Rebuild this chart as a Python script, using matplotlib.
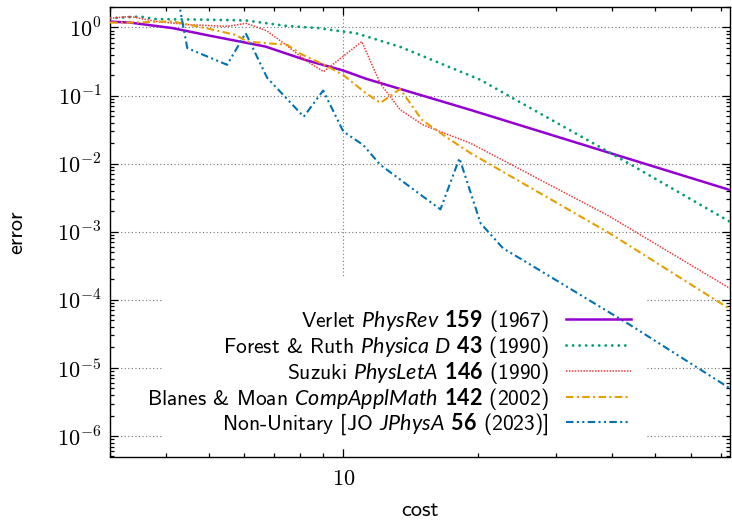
"""Error vs. cost for several splitting integrators (log-log)."""
from __future__ import annotations

import matplotlib

matplotlib.use("Agg")
import matplotlib.pyplot as plt
import numpy as np
from matplotlib.patches import Rectangle
from matplotlib.ticker import FixedLocator, FuncFormatter, LogLocator, NullFormatter

# --------------------------------------------------------------------------- #
# Data
# --------------------------------------------------------------------------- #
cost_verlet = [3, 3.33, 4.14, 4.91, 5.73, 6.69, 8.2, 10, 11.26, 19.26, 37.6, 73.5]
err_verlet = [1.22, 1.18, 0.98, 0.78, 0.64, 0.525, 0.335, 0.233, 0.176, 0.0616, 0.0159, 0.0041]

cost_forest = [3, 3.5, 3.8, 5.0, 6.04, 7.41, 8.79, 10, 10.64, 11.26, 13.4, 20.3, 23.6, 39.8, 73.5]
err_forest = [1.37, 1.45, 1.33, 1.30, 1.27, 1.06, 0.98, 0.87, 0.83, 0.74, 0.52, 0.17, 0.097,
              0.0142, 0.0014]

cost_suzuki = [3, 3.33, 3.8, 4.5, 5.49, 6.06, 6.72, 7.45, 8.22, 9.03, 11.0, 12.1, 13.4, 15.1,
               19.26, 23.5, 39.5, 73.5]
err_suzuki = [1.37, 1.45, 1.23, 1.10, 1.04, 1.15, 0.9, 0.55, 0.33, 0.225, 0.62, 0.15, 0.062,
              0.037, 0.020, 0.0101, 0.00168, 1.47e-4]

cost_blanes = [3, 3.33, 4.14, 4.91, 5.73, 6.09, 7.48, 8.08, 9.1, 10, 11.2, 12.1, 13.4, 15.0,
               17.1, 19.3, 39.5, 73.5]
err_blanes = [1.18, 1.18, 1.23, 0.98, 0.78, 0.62, 0.557, 0.40, 0.28, 0.2, 0.11, 0.078, 0.125,
              0.044, 0.024, 0.0142, 9.5e-4, 7.3e-5]

cost_nonunit = [4, 4.47, 5.49, 6.04, 6.75, 8.15, 9.01, 10, 11.08, 12.1, 16.5, 18.2, 20.3, 22.8,
                25.3, 44.1, 73.5]
err_nonunit = [25, 0.498, 0.283, 0.828, 0.182, 0.049, 0.1185, 0.0296, 0.0188, 0.0096, 0.00213,
               0.012, 0.00133, 5.7e-4, 3.8e-4, 4.2e-5, 5e-6]

labels = [
    r"Verlet $\mathit{PhysRev}$ $\mathbf{159}$ (1967)",
    r"Forest & Ruth $\mathit{Physica\ D}$ $\mathbf{43}$ (1990)",
    r"Suzuki $\mathit{PhysLetA}$ $\mathbf{146}$ (1990)",
    r"Blanes & Moan $\mathit{CompApplMath}$ $\mathbf{142}$ (2002)",
    r"Non-Unitary [JO $\mathit{JPhysA}$ $\mathbf{56}$ (2023)]",
]

y_decades = [1e-6, 1e-5, 1e-4, 1e-3, 1e-2, 1e-1, 1e0]
x_major = [10]

plt.rcParams["mathtext.fontset"] = "cm"
plt.rcParams["mathtext.rm"] = "Lato"
plt.rcParams["mathtext.it"] = "Lato:italic"
plt.rcParams["mathtext.bf"] = "Lato:bold"


def main() -> None:
    fig = plt.figure(figsize=(7.32, 5.23), dpi=100)
    ax = fig.add_axes([110 / 732, 1 - 456.5 / 523, 620 / 732, 449.5 / 523])
    ax.set_xscale("log")
    ax.set_yscale("log")
    ax.set_xlim(3, 73.5)
    ax.set_ylim(5e-7, 2)

    styles = [
        dict(color="#9400D3", lw=1.8, ls="-"),
        dict(color="#009E73", lw=2.0, ls=(0, (0.05, 2.3)), dash_capstyle="round"),
        dict(color="#F23A3A", lw=1.1, ls=(0, (1, 0.9))),
        dict(color="#E69F00", lw=1.5, ls=(0, (3.6, 1.6, 1, 1.6))),
        dict(color="#0072B2", lw=1.5, ls=(0, (3.6, 1.6, 1, 1.6, 1, 1.6))),
    ]
    series = [
        (cost_verlet, err_verlet),
        (cost_forest, err_forest),
        (cost_suzuki, err_suzuki),
        (cost_blanes, err_blanes),
        (cost_nonunit, err_nonunit),
    ]
    for (x, y), st, lab in zip(series, styles, labels):
        ax.plot(x, y, label=lab, zorder=3, **st)

    # grid + opaque key area (gnuplot style)
    ax.set_axisbelow(True)
    ax.grid(True, which="major", color="0.45", lw=0.8, ls=(0, (1, 2.2)))
    ax.add_patch(Rectangle((0.0855, 0.02), 0.779, 0.379, transform=ax.transAxes,
                           facecolor="white", edgecolor="none", zorder=1))

    ax.yaxis.set_major_locator(FixedLocator(y_decades))
    ax.yaxis.set_minor_locator(LogLocator(base=10, subs=np.arange(2, 10), numticks=20))
    ax.yaxis.set_major_formatter(
        FuncFormatter(lambda v, p: rf"$10^{{{int(round(np.log10(v)))}}}$"))
    ax.yaxis.set_minor_formatter(NullFormatter())
    ax.xaxis.set_major_locator(FixedLocator(x_major))
    ax.xaxis.set_minor_locator(LogLocator(base=10, subs=np.arange(2, 10), numticks=20))
    ax.xaxis.set_major_formatter(FuncFormatter(lambda v, p: rf"${int(v)}$"))
    ax.xaxis.set_minor_formatter(NullFormatter())

    ax.tick_params(which="both", direction="in", top=True, right=True, width=0.9,
                   labelsize=16, pad=6)
    ax.tick_params(axis="x", pad=9)
    ax.tick_params(which="major", length=6)
    ax.tick_params(which="minor", length=3)
    for s in ax.spines.values():
        s.set_linewidth(1.0)

    ax.set_xlabel("cost", fontfamily="cmss10", fontsize=16, labelpad=9)
    ax.set_ylabel("error", fontfamily="cmss10", fontsize=16, labelpad=22)

    leg = ax.legend(loc="center right", bbox_to_anchor=(0.840, 0.187), frameon=False,
                    markerfirst=False, handlelength=3.0, handletextpad=0.8,
                    labelspacing=0.0, borderpad=0, borderaxespad=0,
                    prop={"family": "cmss10", "size": 15.5})
    leg.set_zorder(5)
    for t in leg.get_texts():
        t.set_math_fontfamily("custom")

    fig.savefig("out.png", dpi=100)
    plt.close(fig)


if __name__ == "__main__":
    main()
